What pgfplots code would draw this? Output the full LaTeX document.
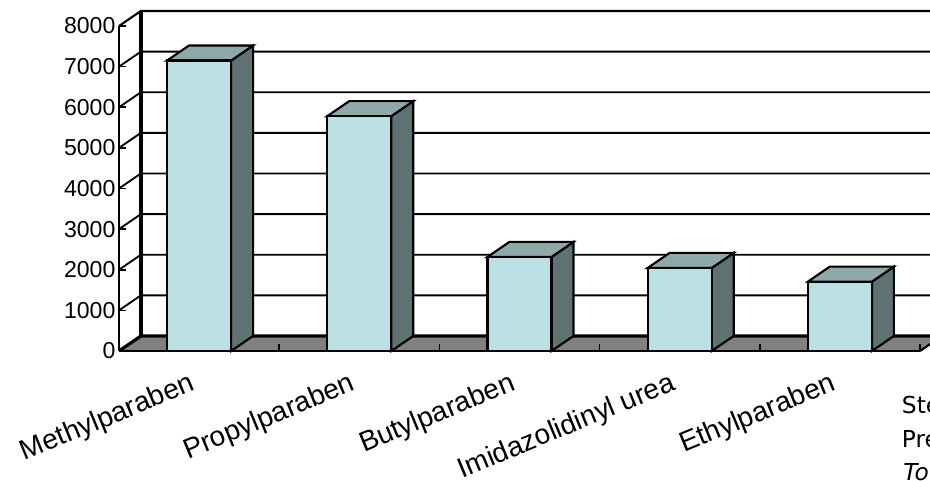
\documentclass[border=0pt]{standalone}
\usepackage{fontspec}
\setmainfont{Liberation Sans}
\newfontfamily\capfont{DejaVu Sans}
\usepackage{pgfplots}
\pgfplotsset{compat=1.18}
\definecolor{barfront}{HTML}{BBE0E3}
\definecolor{bartop}{HTML}{8FA9AB}
\definecolor{barside}{HTML}{5F7173}
\definecolor{floorc}{HTML}{808080}
\begin{document}
\begin{tikzpicture}
\clip (-89.25pt,-97.5pt) rectangle (608.25pt,263.25pt);
\begin{axis}[
  at={(0,0)},anchor=south west,
  scale only axis,width=600.75pt,height=243.75pt,
  xmin=-0.5,xmax=4.5,ymin=0,ymax=8000,clip=false,
  axis on top,
  axis x line*=bottom,axis y line*=left,
  axis line style={line width=1.8pt,-},
  ytick={0,1000,...,8000},
  xtick={0,1,2,3,4},
  xticklabels={Methylparaben,Propylparaben,Butylparaben,Imidazolidinyl urea,Ethylparaben},
  minor xtick={-0.5,0.5,1.5,2.5,3.5,4.5},
  major tick length=5pt,
  minor tick length=5pt,
  major x tick style={draw=none},
  minor x tick style={draw=black,line width=1.1pt},
  y tick style={black,line width=1.3pt},
  yticklabel style={font=\fontsize{17.3}{17.3}\selectfont,/pgf/number format/assume math mode=true,/pgf/number format/1000 sep={},inner sep=2.5pt},
  xticklabel style={font=\fontsize{21}{21}\selectfont,rotate=22.5,anchor=base east,inner sep=0pt,yshift=-26pt,xshift=-13pt},
]
% floor
\addplot[draw=none,fill=floorc,forget plot] coordinates {(-0.5,0)(-0.363,370)(4.637,370)(4.5,0)} --cycle;
% back wall gridlines and left wall diagonals
\addplot[black,line width=1.4pt] coordinates {(-0.5,1000)(-0.363,1370)(4.637,1370)};
\addplot[black,line width=1.4pt] coordinates {(-0.5,2000)(-0.363,2370)(4.637,2370)};
\addplot[black,line width=1.4pt] coordinates {(-0.5,3000)(-0.363,3370)(4.637,3370)};
\addplot[black,line width=1.4pt] coordinates {(-0.5,4000)(-0.363,4370)(4.637,4370)};
\addplot[black,line width=1.4pt] coordinates {(-0.5,5000)(-0.363,5370)(4.637,5370)};
\addplot[black,line width=1.4pt] coordinates {(-0.5,6000)(-0.363,6370)(4.637,6370)};
\addplot[black,line width=1.4pt] coordinates {(-0.5,7000)(-0.363,7370)(4.637,7370)};
\addplot[black,line width=1.6pt] coordinates {(-0.5,8000)(-0.363,8370)(4.637,8370)};
\addplot[black,line width=2.4pt] coordinates {(-0.363,370)(-0.363,8370)};
\addplot[black,line width=2.4pt] coordinates {(-0.5,0)(-0.363,370)(4.637,370)};
\addplot[black,line width=1.6pt] coordinates {(4.5,0)(4.637,370)};
% bars: side, top, front
\addplot[draw=black,line width=1.6pt,fill=barside] coordinates {(0.2,0)(0.337,370)(0.337,7520)(0.2,7150)} --cycle;
\addplot[draw=black,line width=1.6pt,fill=bartop] coordinates {(-0.2,7150)(-0.063,7520)(0.337,7520)(0.2,7150)} --cycle;
\addplot[ybar,bar width=48pt,bar shift=0pt,draw=black,line width=1.6pt,fill=barfront] coordinates {(0,7150)};
\addplot[draw=black,line width=1.6pt,fill=barside] coordinates {(1.2,0)(1.337,370)(1.337,6150)(1.2,5780)} --cycle;
\addplot[draw=black,line width=1.6pt,fill=bartop] coordinates {(0.8,5780)(0.937,6150)(1.337,6150)(1.2,5780)} --cycle;
\addplot[ybar,bar width=48pt,bar shift=0pt,draw=black,line width=1.6pt,fill=barfront] coordinates {(1,5780)};
\addplot[draw=black,line width=1.6pt,fill=barside] coordinates {(2.2,0)(2.337,370)(2.337,2685)(2.2,2315)} --cycle;
\addplot[draw=black,line width=1.6pt,fill=bartop] coordinates {(1.8,2315)(1.937,2685)(2.337,2685)(2.2,2315)} --cycle;
\addplot[ybar,bar width=48pt,bar shift=0pt,draw=black,line width=1.6pt,fill=barfront] coordinates {(2,2315)};
\addplot[draw=black,line width=1.6pt,fill=barside] coordinates {(3.2,0)(3.337,370)(3.337,2414)(3.2,2044)} --cycle;
\addplot[draw=black,line width=1.6pt,fill=bartop] coordinates {(2.8,2044)(2.937,2414)(3.337,2414)(3.2,2044)} --cycle;
\addplot[ybar,bar width=48pt,bar shift=0pt,draw=black,line width=1.6pt,fill=barfront] coordinates {(3,2044)};
\addplot[draw=black,line width=1.6pt,fill=barside] coordinates {(4.2,0)(4.337,370)(4.337,2077)(4.2,1707)} --cycle;
\addplot[draw=black,line width=1.6pt,fill=bartop] coordinates {(3.8,1707)(3.937,2077)(4.337,2077)(4.2,1707)} --cycle;
\addplot[ybar,bar width=48pt,bar shift=0pt,draw=black,line width=1.6pt,fill=barfront] coordinates {(4,1707)};
\end{axis}
\node[anchor=base west,inner sep=0pt,font=\capfont\fontsize{17.5}{17.5}\selectfont] at (587pt,-46.5pt) {Ste};
\node[anchor=base west,inner sep=0pt,font=\capfont\fontsize{17.5}{17.5}\selectfont] at (587pt,-72pt) {Pre};
\node[anchor=base west,inner sep=0pt,font=\capfont\itshape\fontsize{17.5}{17.5}\selectfont] at (588pt,-97pt) {To};
\end{tikzpicture}
\end{document}
